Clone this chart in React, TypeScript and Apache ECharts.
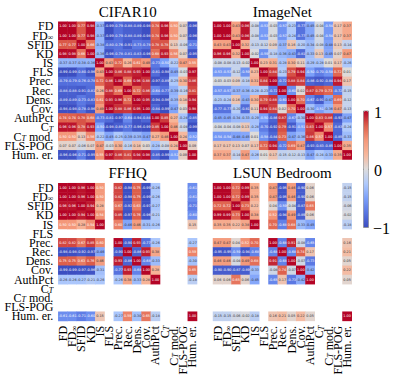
import React, { useEffect, useRef } from "react";
import * as echarts from "echarts";

const FONT = "'Liberation Serif', 'Times New Roman', serif";
const N = null;
const labels = ["FD", "FD{sub|∞}", "SFID", "KD", "IS", "FLS", "Prec.", "Rec.", "Dens.", "Cov.", "AuthPct", "C{it|T}", "C{it|T} mod.", "FLS-POG", "Hum. er."];
const titles = ["CIFAR10", "ImageNet", "FFHQ", "LSUN Bedroom"];
const coolwarm = ["#3b4cc0", "#5875e1", "#7b9ff9", "#aec9fc", "#dddcdc", "#f7b79b", "#f4987a", "#dd5f4b", "#b40426"];

const cifar10: (number | null)[][] = [
  [1, 1, 0.77, 0.98, -0.37, -0.99, -0.79, -0.88, -0.89, -0.98, 0.74, 0.96, 0.5, 0.07, -0.96],
  [1, 1, 0.77, 0.98, -0.37, -0.99, -0.79, -0.88, -0.89, -0.98, 0.74, 0.96, 0.5, 0.07, -0.96],
  [0.77, 0.77, 1, 0.66, -0.38, -0.8, -0.76, -0.91, -0.73, -0.78, 0.78, 0.78, 0.13, -0.06, -0.71],
  [0.98, 0.98, 0.66, 1, -0.36, -0.96, -0.78, -0.81, -0.83, -0.96, 0.68, 0.93, 0.56, 0.07, -0.95],
  [-0.37, -0.37, -0.38, -0.36, 1, 0.43, 0.72, 0.26, 0.61, 0.49, -0.73, -0.5, -0.22, 0.47, 0.55],
  [-0.99, -0.99, -0.8, -0.96, 0.43, 1, 0.86, 0.88, 0.93, 1, -0.81, -0.98, -0.45, -0.03, 0.97],
  [-0.79, -0.79, -0.76, -0.78, 0.72, 0.86, 1, 0.69, 0.96, 0.88, -0.97, -0.89, -0.25, 0.3, 0.86],
  [-0.88, -0.88, -0.91, -0.81, 0.26, 0.88, 0.69, 1, 0.72, 0.86, -0.64, -0.77, -0.39, -0.16, 0.81],
  [-0.89, -0.89, -0.73, -0.83, 0.61, 0.93, 0.96, 0.72, 1, 0.95, -0.94, -0.96, -0.35, 0.18, 0.94],
  [-0.98, -0.98, -0.78, -0.96, 0.49, 1, 0.88, 0.86, 0.95, 1, -0.84, -0.99, -0.47, 0.03, 0.98],
  [0.74, 0.74, 0.78, 0.68, -0.73, -0.81, -0.97, -0.64, -0.94, -0.84, 1, 0.85, 0.27, -0.28, -0.85],
  [0.96, 0.96, 0.78, 0.93, -0.5, -0.98, -0.89, -0.77, -0.96, -0.99, 0.85, 1, 0.46, -0.08, -0.99],
  [0.5, 0.5, 0.13, 0.56, -0.22, -0.45, -0.25, -0.39, -0.35, -0.47, 0.27, 0.46, 1, 0.24, -0.52],
  [0.07, 0.07, -0.06, 0.07, 0.47, -0.03, 0.3, -0.16, 0.18, 0.03, -0.28, -0.08, 0.24, 1, 0.09],
  [-0.96, -0.96, -0.71, -0.95, 0.55, 0.97, 0.86, 0.81, 0.94, 0.98, -0.85, -0.99, -0.52, 0.09, 1],
];
const imageNet: (number | null)[][] = [
  [1, 1, 0.43, 0.96, -0.08, -0.53, -0.03, -0.57, -0.23, -0.77, -0.45, -0.04, -0.54, 0.17, 0.37],
  [1, 1, 0.43, 0.96, -0.08, -0.53, -0.03, -0.57, -0.24, -0.77, -0.45, -0.04, -0.54, 0.17, 0.37],
  [0.43, 0.43, 1, 0.32, -0.13, -0.12, 0.09, -0.37, 0.16, -0.2, -0.34, -0.08, -0.48, 0.13, -0.14],
  [0.96, 0.96, 0.32, 1, -0.02, -0.59, -0.18, -0.36, -0.43, -0.81, -0.33, 0.13, -0.45, 0.07, 0.47],
  [-0.08, -0.08, -0.13, -0.02, 1, 0.23, 0.31, -0.28, 0.3, 0.11, -0.29, -0.28, 0.01, 0.17, -0.26],
  [-0.53, -0.53, -0.12, -0.59, 0.23, 1, 0.84, -0.23, 0.79, 0.94, -0.5, -0.7, -0.58, 0.72, 0.01],
  [-0.03, -0.03, 0.09, -0.18, 0.31, 0.84, 1, -0.72, 0.88, 0.84, -0.86, -0.92, -0.84, 0.94, 0.17],
  [-0.57, -0.57, -0.37, -0.36, -0.28, -0.23, -0.72, 1, -0.6, 0.02, 0.87, 0.79, 0.73, -0.72, -0.15],
  [-0.23, -0.24, 0.16, -0.43, 0.3, 0.79, 0.88, -0.6, 1, 0.7, -0.67, -0.91, -0.47, 0.69, -0.12],
  [-0.77, -0.77, -0.2, -0.81, 0.11, 0.94, 0.84, 0.02, 0.7, 1, -0.3, -0.51, -0.36, 0.47, -0.13],
  [-0.45, -0.45, -0.34, -0.33, -0.29, -0.5, -0.86, 0.87, -0.67, -0.3, 1, 0.83, 0.86, -0.93, -0.47],
  [-0.04, -0.04, -0.08, 0.13, -0.28, -0.7, -0.92, 0.79, -0.91, -0.51, 0.83, 1, 0.57, -0.83, -0.24],
  [-0.54, -0.54, -0.48, -0.45, 0.01, -0.58, -0.84, 0.73, -0.47, -0.36, 0.86, 0.57, 1, -0.85, -0.33],
  [0.17, 0.17, 0.13, 0.07, 0.17, 0.72, 0.94, -0.72, 0.69, 0.47, -0.93, -0.83, -0.85, 1, 0.35],
  [0.37, 0.37, -0.14, 0.47, -0.26, 0.01, 0.17, -0.15, -0.12, -0.13, -0.47, -0.24, -0.33, 0.35, 1],
];
const blank = [N, N, N, N, N, N, N, N, N, N, N, N, N, N, N];
const ffhq: (number | null)[][] = [
  [1, 1, 0.96, 1, 0.5, N, 0.82, -0.98, 0.75, -0.99, -0.26, N, N, N, -0.61],
  [1, 1, 0.96, 1, 0.5, N, 0.82, -0.98, 0.75, -0.99, -0.26, N, N, N, -0.61],
  [0.96, 0.96, 1, 0.94, 0.28, N, 0.67, -0.92, 0.63, -0.97, -0.27, N, N, N, -0.71],
  [1, 1, 0.94, 1, 0.54, N, 0.85, -0.97, 0.76, -0.96, -0.21, N, N, N, -0.6],
  [0.5, 0.5, 0.28, 0.54, 1, N, 0.6, -0.46, 0.46, -0.31, -0.26, N, N, N, 0.15],
  blank,
  [0.82, 0.82, 0.67, 0.85, 0.6, N, 1, -0.9, 0.93, -0.77, -0.26, N, N, N, -0.27],
  [-0.98, -0.98, -0.92, -0.97, -0.46, N, -0.9, 1, -0.86, 0.93, 0.38, N, N, N, 0.59],
  [0.75, 0.75, 0.63, 0.76, 0.46, N, 0.93, -0.86, 1, -0.68, -0.33, N, N, N, -0.3],
  [-0.99, -0.99, -0.97, -0.96, -0.31, N, -0.77, 0.93, -0.68, 1, 0.28, N, N, N, 0.65],
  [-0.26, -0.26, -0.27, -0.21, -0.26, N, -0.26, 0.38, -0.33, 0.28, 1, N, N, N, -0.18],
  blank,
  blank,
  blank,
  [-0.61, -0.61, -0.71, -0.6, 0.15, N, -0.27, 0.59, -0.3, 0.65, -0.18, N, N, N, 1],
];
const lsun: (number | null)[][] = [
  [1, 1, 0.72, 0.99, 0.35, N, 0.47, -0.95, 0.46, -0.9, 0.06, N, N, N, -0.15],
  [1, 1, 0.72, 0.99, 0.35, N, 0.47, -0.95, 0.46, -0.9, 0.06, N, N, N, -0.15],
  [0.72, 0.72, 1, 0.73, 0.22, N, 0.04, -0.59, -0.04, -0.87, 0.65, N, N, N, -0.06],
  [0.99, 0.99, 0.73, 1, 0.38, N, 0.52, -0.94, 0.49, -0.89, 0.06, N, N, N, -0.02],
  [0.35, 0.35, 0.22, 0.38, 1, N, 0.7, -0.68, 0.68, -0.33, -0.45, N, N, N, -0.18],
  blank,
  [0.47, 0.47, 0.04, 0.52, 0.7, N, 1, -0.68, 0.91, -0.08, -0.65, N, N, N, 0.16],
  [-0.95, -0.95, -0.59, -0.94, -0.68, N, -0.68, 1, -0.68, 0.74, 0.17, N, N, N, 0.21],
  [0.46, 0.46, -0.04, 0.49, 0.68, N, 0.91, -0.68, 1, -0.07, -0.73, N, N, N, 0.05],
  [-0.9, -0.9, -0.87, -0.89, -0.33, N, -0.08, 0.74, -0.07, 1, -0.42, N, N, N, 0.22],
  [0.06, 0.06, 0.65, 0.06, -0.45, N, -0.65, 0.17, -0.73, -0.42, 1, N, N, N, 0.05],
  blank,
  blank,
  blank,
  [-0.15, -0.15, -0.06, -0.02, -0.18, N, 0.16, 0.21, 0.05, 0.22, 0.05, N, N, N, 1],
];
const matrices = [cifar10, imageNet, ffhq, lsun];

const CELL_W = 9.25;
const CELL_H = 9.18;
const gridLeft = [58.3, 213];
const gridTop = [21.8, 183.2];

function toCells(m: (number | null)[][]) {
  const out: any[] = [];
  m.forEach((row, y) =>
    row.forEach((v, x) => {
      if (v === null) return;
      out.push({
        value: [x, y, v],
        label: { color: Math.abs(v) >= 0.5 ? "#ffffff" : "#33333a" },
      });
    })
  );
  return out;
}

const rich = {
  sub: { fontFamily: FONT, fontSize: 8, verticalAlign: "bottom", padding: [4, 0, 0, 0], color: "#000" },
  it: { fontFamily: FONT, fontSize: 8, fontStyle: "italic", verticalAlign: "bottom", padding: [4, 0, 0, 0], color: "#000" },
};

export default function App() {
  const ref = useRef<HTMLDivElement>(null);
  useEffect(() => {
    const chart = echarts.init(ref.current!, undefined, { renderer: "svg" });
    const grids = matrices.map((_, i) => ({
      left: gridLeft[i % 2],
      top: gridTop[i < 2 ? 0 : 1],
      width: CELL_W * 15,
      height: CELL_H * 15,
    }));
    const axisBase = {
      type: "category" as const,
      data: labels,
      axisLine: { show: false },
      axisTick: { show: false },
      splitLine: { show: false },
      splitArea: { show: false },
    };
    const labelBase = {
      interval: 0,
      fontFamily: FONT,
      fontSize: 12,
      color: "#000",
      rich,
    };
    chart.setOption({
      animation: false,
      backgroundColor: "#fff",
      title: titles.map((t, i) => ({
        text: t,
        left: gridLeft[i % 2] + (CELL_W * 15) / 2,
        textAlign: "center",
        top: i < 2 ? 4.5 : 165.5,
        padding: 0,
        textStyle: { fontFamily: FONT, fontSize: 15, fontWeight: "normal", color: "#000" },
      })),
      grid: grids,
      xAxis: matrices.map((_, i) => ({
        ...axisBase,
        gridIndex: i,
        axisLabel: { ...labelBase, show: i >= 2, rotate: 90, margin: 5 },
      })),
      yAxis: matrices.map((_, i) => ({
        ...axisBase,
        gridIndex: i,
        inverse: true,
        axisLabel: { ...labelBase, show: i % 2 === 0, margin: 5 },
      })),
      visualMap: {
        type: "continuous",
        min: -1,
        max: 1,
        dimension: 2,
        calculable: false,
        showLabel: false,
        realtime: false,
        left: 363.5,
        top: 111,
        padding: 0,
        itemWidth: 5,
        itemHeight: 116.5,
        text: ["", ""],
        inRange: { color: coolwarm },
      },
      series: matrices.map((m, i) => ({
        type: "heatmap",
        xAxisIndex: i,
        yAxisIndex: i,
        data: toCells(m),
        label: {
          show: true,
          fontFamily: "'DejaVu Sans', sans-serif",
          fontSize: 3.4,
          formatter: (p: any) => p.value[2].toFixed(2),
        },
        itemStyle: { borderWidth: 0 },
        emphasis: { disabled: true },
      })),
      graphic: [
        { type: "rect", shape: { x: 363.5, y: 111, width: 5, height: 116.5 }, style: { fill: "none", stroke: "#777", lineWidth: 0.8 }, silent: true },
        { type: "line", shape: { x1: 363.5, y1: 169.3, x2: 368.5, y2: 169.3 }, style: { stroke: "#222", lineWidth: 0.8 }, silent: true },
        { type: "text", x: 374, y: 112, style: { text: "1", fontFamily: FONT, fontSize: 16, fill: "#000", textVerticalAlign: "middle" } },
        { type: "text", x: 374, y: 170, style: { text: "0", fontFamily: FONT, fontSize: 16, fill: "#000", textVerticalAlign: "middle" } },
        { type: "text", x: 373, y: 228.5, style: { text: "−1", fontFamily: FONT, fontSize: 16, fill: "#000", textVerticalAlign: "middle" } },
      ],
    });
    return () => chart.dispose();
  }, []);
  return <div ref={ref} style={{ position: "fixed", left: 0, top: 0, width: 395, height: 380 }} />;
}
